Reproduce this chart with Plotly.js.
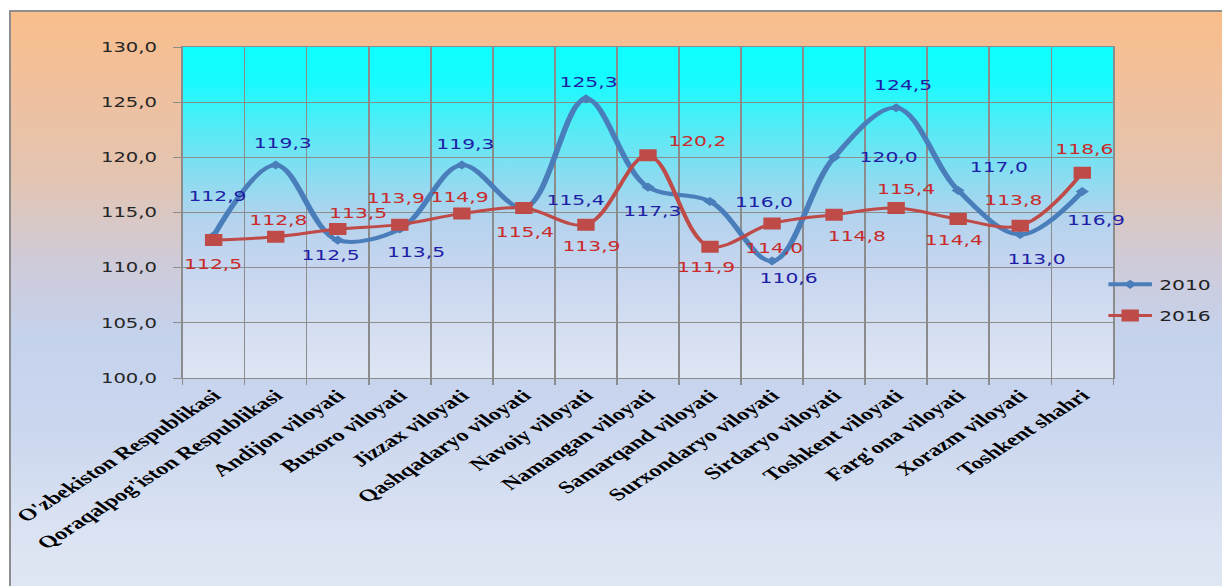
<!DOCTYPE html>
<html>
<head>
<meta charset="utf-8">
<script src="https://cdn.plot.ly/plotly-3.0.1.min.js"></script>
<style>
  html, body { margin: 0; padding: 0; width: 1222px; height: 586px; overflow: hidden; background: #ffffff; }
  #frame { position: absolute; left: 9px; top: 10px; width: 1240px; height: 600px;
    border: 2px solid #8e8e8e; box-sizing: border-box;
    background: linear-gradient(to bottom, #F9BE8B 0%, #EFC09F 14%, #E3C5B2 28%, #CFCBD9 42%, #C5D2EC 54%, #CBD7EF 70%, #DCE4F3 88%, #E0E7F4 100%); }
  #plotbg { position: absolute; left: 182px; top: 47px; width: 932px; height: 331px;
    background: linear-gradient(to bottom, #0FFFFF 0%, #16FBFF 10%, #4BEEF7 22%, #86DDF1 38%, #B4D3EE 52%, #C6D5EF 66%, #D2DDF1 82%, #DEE6F4 100%); }
  #chart { position: absolute; left: 0; top: 0; width: 843px; height: 586px;
    transform: scaleX(1.4496); transform-origin: 0 0; }
</style>
</head>
<body>
<div id="frame"></div>
<div id="plotbg"></div>
<div id="chart"></div>
<script>
// ---- data ----
var categories = [
  "O'zbekiston Respublikasi",
  "Qoraqalpog'iston Respublikasi",
  "Andijon viloyati",
  "Buxoro viloyati",
  "Jizzax viloyati",
  "Qashqadaryo viloyati",
  "Navoiy viloyati",
  "Namangan viloyati",
  "Samarqand viloyati",
  "Surxondaryo viloyati",
  "Sirdaryo viloyati",
  "Toshkent viloyati",
  "Farg'ona viloyati",
  "Xorazm viloyati",
  "Toshkent shahri"
];
var values2010 = [112.9, 119.3, 112.5, 113.5, 119.3, 115.4, 125.3, 117.3, 116.0, 110.6, 120.0, 124.5, 117.0, 113.0, 116.9];
var values2016 = [112.5, 112.8, 113.5, 113.9, 114.9, 115.4, 113.9, 120.2, 111.9, 114.0, 114.8, 115.4, 114.4, 113.8, 118.6];
var seriesNames = ["2010", "2016"];

// ---- label placement (style only, screen px: [dx right, dy up]) ----
var S = 1.4496;
var offsets2010 = [[4,40],[7,22],[-7,-15],[16,-23],[4,21],[52,8],[3,17],[5,-24],[54,-1],[17,-17],[55,0],[7,23],[40,23],[16,-24],[14,-28]];
var offsets2016 = [[-1,-24],[3,17],[20,16],[-4,27],[-2,17],[1,-24],[6,-21],[50,14],[-4,-20],[2,-24],[22,-21],[10,19],[-5,-21],[-7,26],[2,24]];

var blue = '#4A7EBB', red = '#BE4B48';
var blueText = '#1E1EA6', redText = '#C92A2A';

function fmt(v) { return v.toFixed(1).replace('.', ','); }

function labels(vals, offs, color) {
  return vals.map(function (v, i) {
    return {
      x: categories[i], y: v, xref: 'x', yref: 'y',
      text: fmt(v), showarrow: false,
      xshift: offs[i][0] / S, yshift: offs[i][1],
      font: { family: 'DejaVu Sans', size: 14, color: color }
    };
  });
}

var traces = [
  {
    x: categories, y: values2010, name: seriesNames[0], type: 'scatter', mode: 'lines+markers',
    line: { color: blue, width: 4, shape: 'spline', smoothing: 1 },
    marker: { symbol: 'diamond', size: 7, color: blue },
    legendgroup: 'a'
  },
  {
    x: categories, y: values2016, name: seriesNames[1], type: 'scatter', mode: 'lines+markers',
    line: { color: red, width: 3, shape: 'spline', smoothing: 1 },
    marker: { symbol: 'square', size: 12, color: red },
    legendgroup: 'b'
  }
];

var grid = '#8c8c8c';
var layout = {
  width: 843, height: 586,
  margin: { l: 125.5, r: 74.5, t: 47, b: 208, pad: 0, autoexpand: false },
  paper_bgcolor: 'rgba(0,0,0,0)',
  plot_bgcolor: 'rgba(0,0,0,0)',
  separators: ',.',
  showlegend: true,
  legend: {
    x: 0.987, xanchor: 'left', y: 0.33, yanchor: 'top',
    bgcolor: 'rgba(0,0,0,0)', borderwidth: 0,
    font: { family: 'DejaVu Sans', size: 14, color: '#222222' },
    itemwidth: 30, traceorder: 'grouped', tracegroupgap: 10
  },
  xaxis: {
    type: 'category', categoryarray: categories, range: [-0.5, 14.5],
    tickson: 'boundaries', ticks: 'outside', ticklen: 6, tickcolor: grid, tickwidth: 1,
    showgrid: true, gridcolor: grid, gridwidth: 1,
    showline: true, linecolor: grid, linewidth: 1, mirror: true,
    tickangle: -43, automargin: false,
    tickfont: { family: 'Liberation Serif', size: 17, color: '#000000', weight: 'bold' },
    fixedrange: true
  },
  yaxis: {
    range: [100, 130], dtick: 5, tick0: 100, tickformat: '.1f',
    ticks: 'outside', ticklen: 6, tickcolor: grid, tickwidth: 1,
    showgrid: true, gridcolor: grid, gridwidth: 1,
    showline: true, linecolor: grid, linewidth: 1, mirror: true,
    zeroline: false, ticklabelstandoff: 8, automargin: false,
    tickfont: { family: 'DejaVu Sans', size: 13.5, color: '#262626' },
    fixedrange: true
  },
  annotations: labels(values2010, offsets2010, blueText).concat(labels(values2016, offsets2016, redText))
};

Plotly.newPlot('chart', traces, layout, { displayModeBar: false, staticPlot: true });
</script>
</body>
</html>
